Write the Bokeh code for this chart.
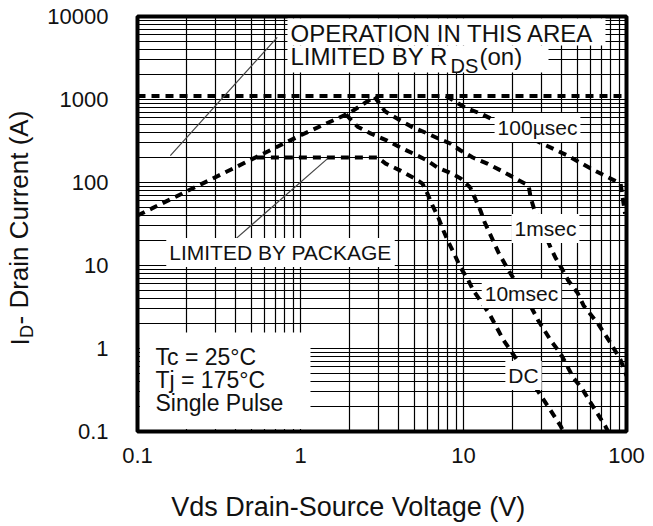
from bokeh.plotting import figure
from bokeh.layouts import row
from bokeh.models import FixedTicker, Label, BoxAnnotation, Range1d
from bokeh.embed import file_html
from bokeh.resources import INLINE

# ---------------- data ----------------
x_ticks = [0.1, 1, 10, 100]
x_tick_labels = ["0.1", "1", "10", "100"]
y_ticks = [0.1, 1, 10, 100, 1000, 10000]
y_tick_labels = ["0.1", "1", "10", "100", "1000", "10000"]

# RDS(on) limited rising line (shared by all curves)
v_rds = [0.1, 1.0, 2.0, 2.85]
i_rds = [40, 370, 690, 1080]

# horizontal limit line
v_limit = [0.1, 100]
i_limit = [1100, 1100]

# 100 usec
v_100us = [7.8, 8.7, 10.2, 12.7, 27.7, 43.5, 60, 92, 98]
i_100us = [1100, 970, 800, 678, 321, 211, 148, 97, 42]

# 1 msec
v_1ms = [2.85, 3.3, 4.1, 4.9, 6.0, 7.0, 8.3, 9.6, 11.4, 14.0, 16.9, 20.8, 25.1,
         25.8, 27.1, 34.3, 36.6, 40.1, 43.9, 50, 54.5, 66.8, 80.2, 92.2, 100]
i_1ms = [1080, 720, 558, 460, 390, 339, 295, 243, 200, 169, 140, 112, 92,
         66, 48, 16.3, 12.5, 9.2, 6.6, 4.7, 3.3, 2.0, 1.15, 0.72, 0.47]

# 10 msec
v_10ms = [1.9, 2.24, 2.69, 3.4, 4.1, 4.9, 6.0, 6.9, 8.5, 9.6, 11.0, 12.7, 13.5,
          15.0, 16.4, 18.6, 25.7, 28.8, 34.3, 39.4, 47.3, 53.3, 59.6, 74, 77]
i_10ms = [660, 470, 390, 320, 264, 224, 184, 152, 128, 112, 87, 46, 33,
          21, 14.3, 9.2, 3.3, 2.16, 1.25, 0.87, 0.44, 0.33, 0.23, 0.117, 0.1]

# DC (package limited, then thermal)
v_dc = [0.54, 2.97, 3.33, 4.1, 4.9, 5.6, 6.0, 6.45, 7.0, 7.55, 8.1, 8.7, 9.6,
        10.6, 11.5, 13.3, 14.6, 17.6, 21.8, 28.5, 34.2, 39.4, 41]
i_dc = [200, 200, 169, 139, 115, 97, 74, 53, 38, 26, 18.9, 14.3, 9.4,
        6.9, 5.0, 3.3, 2.5, 1.26, 0.68, 0.31, 0.18, 0.117, 0.1]

# callout leader lines
v_call_rds = [0.159, 0.72]
i_call_rds = [211, 5600]
v_call_pkg = [1.465, 0.383]
i_call_pkg = [194, 19.4]

FONT = "Liberation Sans"
TXT = "#111111"

LEFT_W = 40          # narrow panel holding the rotated y title
TOTAL_W = 650
H = 524
FR_L, FR_T, FR_W, FR_H = 137, 16, 489, 415   # frame in page pixels


# page-pixel helpers for placing annotations (layout only)
def X(px):
    return 0.1 * 10 ** ((px - 137) / 163.0)


def Y(py):
    return 1000 * 10 ** ((99 - py) / 83.0)


p = figure(width=TOTAL_W - LEFT_W, height=H, x_axis_type="log", y_axis_type="log",
           x_range=(0.1, 100), y_range=(0.1, 10000),
           output_backend="svg", toolbar_location=None,
           min_border_left=FR_L - LEFT_W,
           min_border_right=TOTAL_W - FR_L - FR_W,
           min_border_top=FR_T, min_border_bottom=H - FR_T - FR_H)
p.background_fill_color = "white"
p.border_fill_color = "white"
p.outline_line_color = "black"
p.outline_line_width = 4

x_minor = [m * 10.0 ** e for e in range(-1, 2) for m in range(2, 10)]
y_minor = [m * 10.0 ** e for e in range(-1, 4) for m in range(2, 10)]
xt = FixedTicker(ticks=x_ticks, minor_ticks=x_minor)
yt = FixedTicker(ticks=y_ticks, minor_ticks=y_minor)

p.xaxis.ticker = xt
p.yaxis.ticker = yt
p.xgrid.ticker = xt
p.ygrid.ticker = yt
for g in (p.xgrid, p.ygrid):
    g.grid_line_color = "black"
    g.grid_line_width = 1.2
    g.minor_grid_line_color = "black"
    g.minor_grid_line_width = 1.2

p.xaxis.major_label_overrides = dict(zip(x_ticks, x_tick_labels))
p.yaxis.major_label_overrides = dict(zip(y_ticks, y_tick_labels))
for ax in (p.xaxis, p.yaxis):
    ax.axis_line_color = None
    ax.major_tick_line_color = None
    ax.minor_tick_line_color = None
    ax.major_label_text_font = FONT
    ax.major_label_text_font_size = "22px"
    ax.major_label_text_color = TXT
p.xaxis.major_label_standoff = 10
p.yaxis.major_label_standoff = 23

# x-axis title; trailing no-break spaces shift the centred text left like the original
p.xaxis.axis_label = "Vds Drain-Source Voltage (V)" + "\u00a0" * 9
p.xaxis.axis_label_text_font = FONT
p.xaxis.axis_label_text_font_size = "27px"
p.xaxis.axis_label_text_font_style = "normal"
p.xaxis.axis_label_text_color = TXT
p.xaxis.axis_label_standoff = 26

DASH = "8 6"
LW = 4
for vs, is_ in ((v_limit, i_limit), (v_rds, i_rds), (v_100us, i_100us),
                (v_1ms, i_1ms), (v_10ms, i_10ms), (v_dc, i_dc)):
    p.line(vs, is_, line_color="black", line_width=LW, line_dash=DASH)

for vs, is_ in ((v_call_rds, i_call_rds), (v_call_pkg, i_call_pkg)):
    p.line(vs, is_, line_color="#444444", line_width=1.2)

# white areas masking the grid
for l, r, b, t in ((X(287), X(605), Y(45), Y(18)),
                   (X(287), X(548), Y(72), Y(45)),
                   (X(139.5), X(310), Y(428.5), Y(332))):
    p.add_layout(BoxAnnotation(left=l, right=r, bottom=b, top=t,
                               fill_color="white", fill_alpha=1.0,
                               line_color=None))


def lab(fig, text, x, y, size, align="left", bg=False, **kw):
    opts = dict(x=x, y=y, text=text, text_font=FONT, text_font_size=size,
                text_color=TXT, text_align=align, text_baseline="middle")
    if bg:
        opts.update(background_fill_color="white", background_fill_alpha=1.0,
                    padding=3)
    opts.update(kw)
    fig.add_layout(Label(**opts))


lab(p, "OPERATION IN THIS AREA", X(290), Y(33), "24px")
lab(p, "LIMITED BY R", X(290), Y(56), "24px")
lab(p, "DS", X(290), Y(65), "20px", x_offset=160)
lab(p, "(on)", X(290), Y(56), "24px", x_offset=189)

lab(p, "100\u00b5sec", X(537), Y(127), "21px", align="center", bg=True)
lab(p, "1msec", X(545), Y(228), "21px", align="center", bg=True)
lab(p, "10msec", X(521), Y(293), "21px", align="center", bg=True)
lab(p, "DC", X(523), Y(375), "21px", align="center", bg=True)
lab(p, "LIMITED BY PACKAGE", X(280), Y(252), "21px", align="center", bg=True)

lab(p, "Tc = 25\u00b0C", X(155), Y(356), "23px")
lab(p, "Tj = 175\u00b0C", X(155), Y(379), "23px")
lab(p, "Single Pulse", X(155), Y(402), "23px")

# narrow left panel with the rotated y-axis title (page-pixel coordinates)
t = figure(width=LEFT_W, height=H, x_range=Range1d(0, LEFT_W),
           y_range=Range1d(FR_T + FR_H, FR_T),
           output_backend="svg", toolbar_location=None,
           x_axis_location=None, y_axis_location=None,
           min_border_left=0, min_border_right=0,
           min_border_top=FR_T, min_border_bottom=H - FR_T - FR_H)
t.outline_line_color = None
t.grid.visible = False
t.background_fill_color = "white"
t.border_fill_color = "white"
lab(t, "I", 19, 345, "26px", angle=1.5708)
lab(t, "D", 26, 337.5, "18px", angle=1.5708)
lab(t, "- Drain Current (A)", 19, 324, "26px", angle=1.5708)

layout = row(t, p, spacing=0)
open("out.html", "w").write(file_html(layout, INLINE))
